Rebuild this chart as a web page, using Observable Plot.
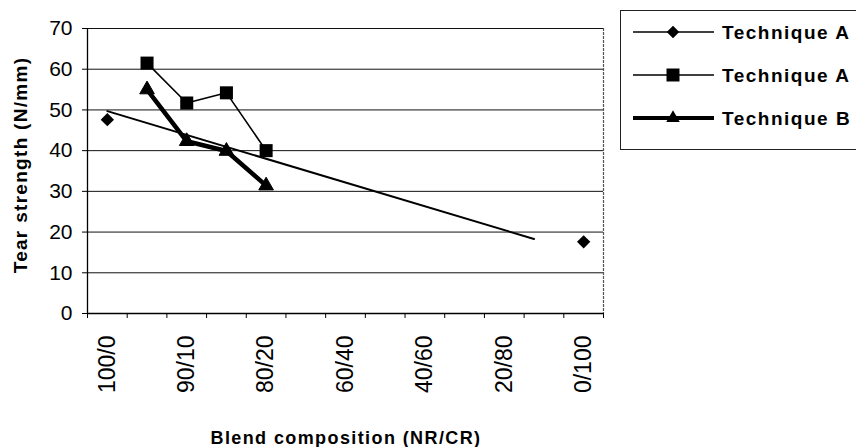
<!DOCTYPE html>
<html>
<head>
<meta charset="utf-8">
<script src="https://cdn.jsdelivr.net/npm/d3@7"></script>
<script src="https://cdn.jsdelivr.net/npm/@observablehq/plot@0.6"></script>
<style>
  html, body { margin: 0; padding: 0; background: #fff; }
  #chart svg { display: block; }
</style>
</head>
<body>
<div id="chart"></div>
<script>
// Blend compositions (NR/CR); each label sits on every other category slot
const compositionLabels = ["100/0", "90/10", "80/20", "60/40", "40/60", "20/80", "0/100"];
const slotCount = 13;

// Technique A (diamonds): pure NR and pure CR only
const diamondSlots = [0, 12];
const diamondValues = [47.6, 17.6];

// Technique A (squares)
const squareSlots = [1, 2, 3, 4];
const squareValues = [61.5, 51.7, 54.2, 40.0];

// Technique B (triangles)
const triangleSlots = [1, 2, 3, 4];
const triangleValues = [55.0, 42.3, 39.9, 31.4];

// Straight reference line running down from the pure-NR value
const trendSlots = [0, 10.75];
const trendValues = [49.7, 18.3];

const yTicks = [0, 10, 20, 30, 40, 50, 60, 70];
const seriesNames = ["Technique A", "Technique A", "Technique B"];

const toRows = (xs, ys) => xs.map((x, i) => ({x, y: ys[i]}));
const diamonds = toRows(diamondSlots, diamondValues);
const squares = toRows(squareSlots, squareValues);
const triangles = toRows(triangleSlots, triangleValues);
const trend = toRows(trendSlots, trendValues);

const boundaries = d3.range(slotCount + 1).map(i => i - 0.5);
const labelSlots = compositionLabels.map((_, i) => i * 2);
const FONT = "'Liberation Sans', Arial, Helvetica, sans-serif";

const chart = Plot.plot({
  width: 856,
  height: 447,
  marginLeft: 87,
  marginRight: 253,
  marginTop: 28,
  marginBottom: 134,
  style: {fontFamily: FONT, fontSize: "20px", color: "#000", background: "#fff"},
  x: {type: "linear", domain: [-0.5, slotCount - 0.5]},
  y: {domain: [0, 70]},
  marks: [
    // horizontal gridlines
    Plot.ruleY(yTicks.filter(d => d > 0), {stroke: "#111", strokeWidth: 1}),
    // right border of the plot area
    Plot.ruleX([slotCount - 0.5], {stroke: "#555", strokeWidth: 1.2, strokeDasharray: "3,1"}),
    // left and bottom axis lines
    Plot.ruleX([-0.5], {stroke: "#000", strokeWidth: 1.3}),
    Plot.ruleY([0], {stroke: "#000", strokeWidth: 1.3}),
    Plot.axisY({ticks: yTicks, tickSize: 5, tickPadding: 10, fontSize: 21, label: null, tickFormat: d => String(d)}),
    Plot.axisX({ticks: boundaries, tickSize: 5, tickFormat: () => "", label: null}),
    Plot.axisX({
      ticks: labelSlots, tickSize: 0, tickPadding: 22, tickRotate: -90,
      fontSize: 23, label: null, tickFormat: i => compositionLabels[i / 2]
    }),
    // reference line
    Plot.line(trend, {x: "x", y: "y", stroke: "#000", strokeWidth: 2}),
    // Technique A squares
    Plot.line(squares, {x: "x", y: "y", stroke: "#000", strokeWidth: 1.6}),
    Plot.dot(squares, {x: "x", y: "y", symbol: "square2", r: 8.3, fill: "#000", stroke: "none"}),
    // Technique B triangles
    Plot.line(triangles, {x: "x", y: "y", stroke: "#000", strokeWidth: 4.5}),
    Plot.dot(triangles, {x: "x", y: "y", symbol: "triangle2", r: 7, fill: "#000", stroke: "#000", strokeWidth: 1}),
    // Technique A diamonds
    Plot.dot(diamonds, {x: "x", y: "y", symbol: "diamond2", r: 6, fill: "#000", stroke: "none"})
  ]
});

document.getElementById("chart").appendChild(chart);

const svg = d3.select(chart);

// axis titles
svg.append("text")
  .attr("transform", "translate(20,165) rotate(-90)")
  .attr("text-anchor", "middle")
  .attr("dominant-baseline", "central")
  .attr("font-family", FONT).attr("font-weight", "bold").attr("font-size", 19)
  .style("letter-spacing", "1.3px")
  .attr("fill", "#000")
  .text("Tear strength (N/mm)");

svg.append("text")
  .attr("x", 346).attr("y", 438)
  .attr("text-anchor", "middle")
  .attr("dominant-baseline", "central")
  .attr("font-family", FONT).attr("font-weight", "bold").attr("font-size", 18)
  .style("letter-spacing", "1.4px")
  .attr("fill", "#000")
  .text("Blend composition (NR/CR)");

// legend
const legend = svg.append("g");
legend.append("rect")
  .attr("x", 620.5).attr("y", 10.5)
  .attr("width", 260).attr("height", 139)
  .attr("fill", "#fff").attr("stroke", "#222").attr("stroke-width", 1);

const rowY = [32, 75, 118];
const lineWidths = [1.5, 1.5, 4];
const legendSymbols = [d3.symbolDiamond2, d3.symbolSquare2, d3.symbolTriangle2];
const symbolSizes = [100, 215, 130];

seriesNames.forEach((name, i) => {
  const g = legend.append("g").attr("transform", `translate(0,${rowY[i]})`);
  g.append("line")
    .attr("x1", 633).attr("x2", 714)
    .attr("stroke", "#000").attr("stroke-width", lineWidths[i]);
  g.append("path")
    .attr("transform", "translate(673,0)")
    .attr("d", d3.symbol(legendSymbols[i], symbolSizes[i])())
    .attr("fill", "#000");
  g.append("text")
    .attr("x", 722).attr("y", 0)
    .attr("text-anchor", "start")
    .attr("dominant-baseline", "central")
    .attr("font-family", FONT).attr("font-weight", "bold").attr("font-size", 19)
    .style("letter-spacing", "1.5px")
    .attr("fill", "#000")
    .text(name);
});
</script>
</body>
</html>
